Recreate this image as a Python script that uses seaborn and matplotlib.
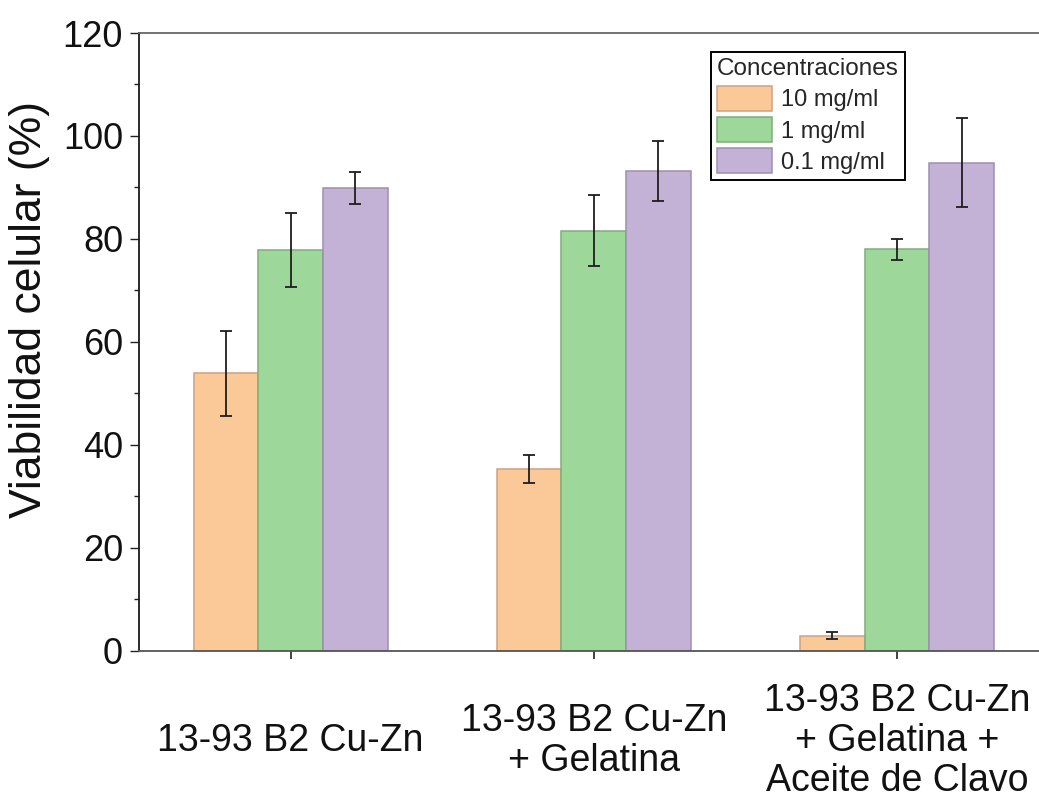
import matplotlib
matplotlib.use("Agg")
import matplotlib.pyplot as plt
import numpy as np
import pandas as pd
import seaborn as sns
from matplotlib.ticker import MultipleLocator

# Sample groups and concentrations
groups = [
    "13-93 B2 Cu-Zn",
    "13-93 B2 Cu-Zn\n+ Gelatina",
    "13-93 B2 Cu-Zn\n+ Gelatina +\nAceite de Clavo",
]
concentrations = ["10 mg/ml", "1 mg/ml", "0.1 mg/ml"]

# Cell viability (%) per concentration, one value per group
viab_10 = [53.9, 35.3, 3.0]
viab_1 = [77.8, 81.6, 78.0]
viab_01 = [89.9, 93.2, 94.8]

# Standard deviations
sd_10 = [8.3, 2.7, 0.7]
sd_1 = [7.2, 6.9, 2.0]
sd_01 = [3.2, 5.9, 8.6]

fill_colors = ["#FBC897", "#9ED79A", "#C3B2D6"]
edge_colors = ["#CFA27E", "#7EAE7A", "#9D8FAE"]

rows = []
for conc, vals, sds in zip(concentrations, [viab_10, viab_1, viab_01], [sd_10, sd_1, sd_01]):
    for g, v, s in zip(groups, vals, sds):
        rows.append({"grupo": g, "concentracion": conc, "viabilidad": v, "sd": s})
df = pd.DataFrame(rows)

sns.set_theme(style="ticks")
plt.rcParams["font.family"] = ["Liberation Sans", "DejaVu Sans"]

fig = plt.figure(figsize=(10.39, 8.01), dpi=100)
ax = fig.add_axes([0.1338, 0.1873, 0.8754, 0.7715])

sns.barplot(
    data=df, x="grupo", y="viabilidad", hue="concentracion",
    order=groups, hue_order=concentrations, palette=fill_colors,
    saturation=1, width=0.64, errorbar=None, linewidth=1.1, ax=ax,
)

# Bar outlines and error bars, one container per concentration
for cont, ec, sds in zip(ax.containers, edge_colors, [sd_10, sd_1, sd_01]):
    xs, ys = [], []
    for p in cont.patches:
        p.set_edgecolor(ec)
        xs.append(p.get_x() + p.get_width() / 2)
        ys.append(p.get_height())
    ax.errorbar(xs, ys, yerr=sds, fmt="none", ecolor="#1e1e1e",
                elinewidth=1.3, capsize=4.0, capthick=1.3, zorder=5)

ax.set_xlim(-0.5, 2.5)
ax.set_ylim(0, 120)
ax.yaxis.set_major_locator(MultipleLocator(20))
ax.yaxis.set_minor_locator(MultipleLocator(10))

ax.set_xlabel("")
ax.set_ylabel("Viabilidad celular (%)", fontsize=32, color="#111111")
ax.yaxis.set_label_coords(-0.098, 0.553)

ax.tick_params(axis="y", which="major", direction="out", length=6.5, width=1.0,
               labelsize=26, pad=5, color="#222222", labelcolor="#111111")
ax.tick_params(axis="y", which="minor", direction="out", length=3.8, width=1.0,
               color="#222222")
ax.tick_params(axis="x", which="major", direction="out", length=6, width=1.2,
               labelsize=27, pad=59, color="#222222", labelcolor="#111111")
for lbl in ax.get_xticklabels():
    lbl.set_verticalalignment("center")
    lbl.set_horizontalalignment("center")
    lbl.set_multialignment("center")
    lbl.set_linespacing(1.15)

ax.spines["left"].set_color("#1a1a1a")
ax.spines["left"].set_linewidth(1.3)
ax.spines["bottom"].set_color("#555555")
ax.spines["bottom"].set_linewidth(1.3)
ax.spines["top"].set_color("#666666")
ax.spines["top"].set_linewidth(1.3)
ax.spines["right"].set_visible(False)

leg = ax.legend(
    title="Concentraciones", loc="upper right",
    bbox_to_anchor=(905 / 1039, 1 - 52 / 801), bbox_transform=fig.transFigure,
    fontsize=17, title_fontsize=17.5, frameon=True, fancybox=False,
    framealpha=1, edgecolor="black", handlelength=2.3, handleheight=1.25,
    handletextpad=0.4, labelspacing=0.25, borderpad=0.25, borderaxespad=0,
    alignment="left",
)
leg.get_frame().set_linewidth(1.4)
for h, ec in zip(leg.legend_handles, edge_colors):
    h.set_edgecolor(ec)
    h.set_linewidth(1.1)

fig.savefig("out.png", dpi=100)
